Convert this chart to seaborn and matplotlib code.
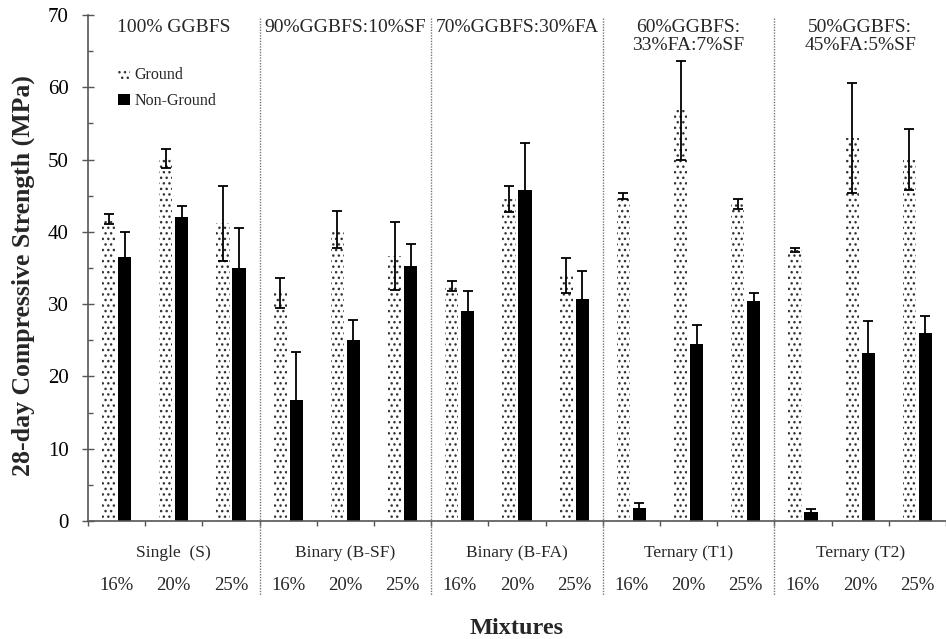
import matplotlib
matplotlib.use("Agg")
import matplotlib.pyplot as plt
import matplotlib.transforms as mtransforms
from matplotlib.patches import Patch
from matplotlib.ticker import MultipleLocator
import numpy as np
import pandas as pd
import seaborn as sns

# ---------------- data ----------------
groups = ["Single  (S)", "Binary (B-SF)", "Binary (B-FA)", "Ternary (T1)", "Ternary (T2)"]
group_notes = ["100% GGBFS", "90%GGBFS:10%SF", "70%GGBFS:30%FA",
               "60%GGBFS:\n33%FA:7%SF", "50%GGBFS:\n45%FA:5%SF"]
binders = ["16%", "20%", "25%"]
series = ["Ground", "Non-Ground"]

ground = [41.8, 50.2, 41.2, 31.5, 40.3, 36.7, 32.5, 44.6, 34.0, 45.0, 56.8, 43.8, 37.5, 53.0, 50.0]
ground_err = [0.7, 1.3, 5.2, 2.1, 2.6, 4.7, 0.7, 1.8, 2.4, 0.4, 6.8, 0.7, 0.3, 7.6, 4.2]
nonground = [36.5, 42.0, 35.0, 16.7, 25.0, 35.3, 29.0, 45.8, 30.7, 1.8, 24.5, 30.4, 1.2, 23.2, 26.0]
nonground_err = [3.5, 1.6, 5.6, 6.7, 2.8, 3.0, 2.8, 6.5, 3.9, 0.7, 2.6, 1.1, 0.5, 4.4, 2.3]

# ---------------- style ----------------
sns.set_theme(style="white")
plt.rcParams["font.family"] = ["Liberation Serif", "DejaVu Serif"]
plt.rcParams["hatch.linewidth"] = 1.0

cats = [f"{g}|{b}" for g in groups for b in binders]
df = pd.DataFrame({
    "cat": cats * 2,
    "type": [series[0]] * len(cats) + [series[1]] * len(cats),
    "value": ground + nonground,
})

fig = plt.figure(figsize=(9.46, 6.39), dpi=100)
ax = fig.add_axes([88 / 946, 1 - 521 / 639, 858 / 946, 506 / 639])

sns.barplot(data=df, x="cat", y="value", hue="type", order=cats,
            hue_order=series, palette={"Ground": "white", "Non-Ground": "black"},
            errorbar=None, width=0.56, gap=0.18, legend=False, ax=ax)

errs = [ground_err, nonground_err]
bar_containers = list(ax.containers)
for ci, cont in enumerate(bar_containers):
    xs, ys = [], []
    for p in cont.patches:
        if ci == 0:
            p.set_facecolor("white")
            p.set_edgecolor("#333333")
            p.set_hatch("...")
            p.set_linewidth(0)
        else:
            p.set_facecolor("black")
            p.set_edgecolor("black")
            p.set_linewidth(0)
        xs.append(p.get_x() + p.get_width() / 2)
        ys.append(p.get_height())
    ax.errorbar(xs, ys, yerr=errs[ci], fmt="none", ecolor="black",
                elinewidth=1.3, capsize=3.3, capthick=1.3, zorder=5)

# axes
ax.set_xlim(-0.5, len(cats) - 0.5)
ax.set_ylim(0, 70)
ax.yaxis.set_major_locator(MultipleLocator(10))
ax.yaxis.set_minor_locator(MultipleLocator(5))
ax.set_xticks(np.arange(-0.5, len(cats) + 0.5, 1.0))
ax.set_xticklabels([])
ax.tick_params(axis="y", which="major", direction="inout", length=8, width=1,
               color="#555555", labelsize=15, pad=10, left=True)
ax.tick_params(axis="y", which="minor", direction="in", length=3.6, width=1,
               color="#555555", left=True)
ax.tick_params(axis="x", which="major", direction="out", length=3.5, width=1,
               color="#555555", bottom=True)
for lab in ax.get_yticklabels():
    lab.set_color("black")
for s in ["top", "right"]:
    ax.spines[s].set_visible(False)
for s in ["left", "bottom"]:
    ax.spines[s].set_color("#555555")
    ax.spines[s].set_linewidth(1.2)

ax.set_xlabel("")
ax.set_ylabel("28-day Compressive Strength (MPa)", fontsize=18.5, fontweight="bold")
ax.yaxis.set_label_coords(-0.062, 0.485)

trans = mtransforms.blended_transform_factory(ax.transData, ax.transAxes)

# dividers
for k in range(1, len(groups)):
    xb = k * len(binders) - 0.5
    ax.plot([xb, xb], [0.994, -0.146], transform=trans, color="#777777",
            linestyle=(0, (1, 1)), linewidth=1, clip_on=False, zorder=1)

# group labels, binder labels, top notes
for gi, g in enumerate(groups):
    xc = gi * len(binders) + (len(binders) - 1) / 2
    ax.text(xc, -0.064, g, transform=trans, ha="center", va="center", fontsize=12.5)
    ax.text(xc, 0.993, group_notes[gi], transform=trans, ha="center", va="top",
            fontsize=14, linespacing=1.15)
    for bi, b in enumerate(binders):
        ax.text(gi * len(binders) + bi, -0.128, b, transform=trans, ha="center",
                va="center", fontsize=13.5)

ax.text(0.5, -0.213, "Mixtures", transform=ax.transAxes, ha="center", va="center",
        fontsize=17.5, fontweight="bold")

# legend
handles = [Patch(facecolor="white", edgecolor="#333333", hatch="...", linewidth=0, label=series[0]),
           Patch(facecolor="black", edgecolor="black", linewidth=0, label=series[1])]
ax.legend(handles=handles, loc="upper left", bbox_to_anchor=(0.028, 0.91),
          frameon=False, fontsize=11.5, handlelength=0.7, handleheight=0.7,
          handletextpad=0.3, labelspacing=0.65, borderaxespad=0)

fig.savefig("out.png", dpi=100)
